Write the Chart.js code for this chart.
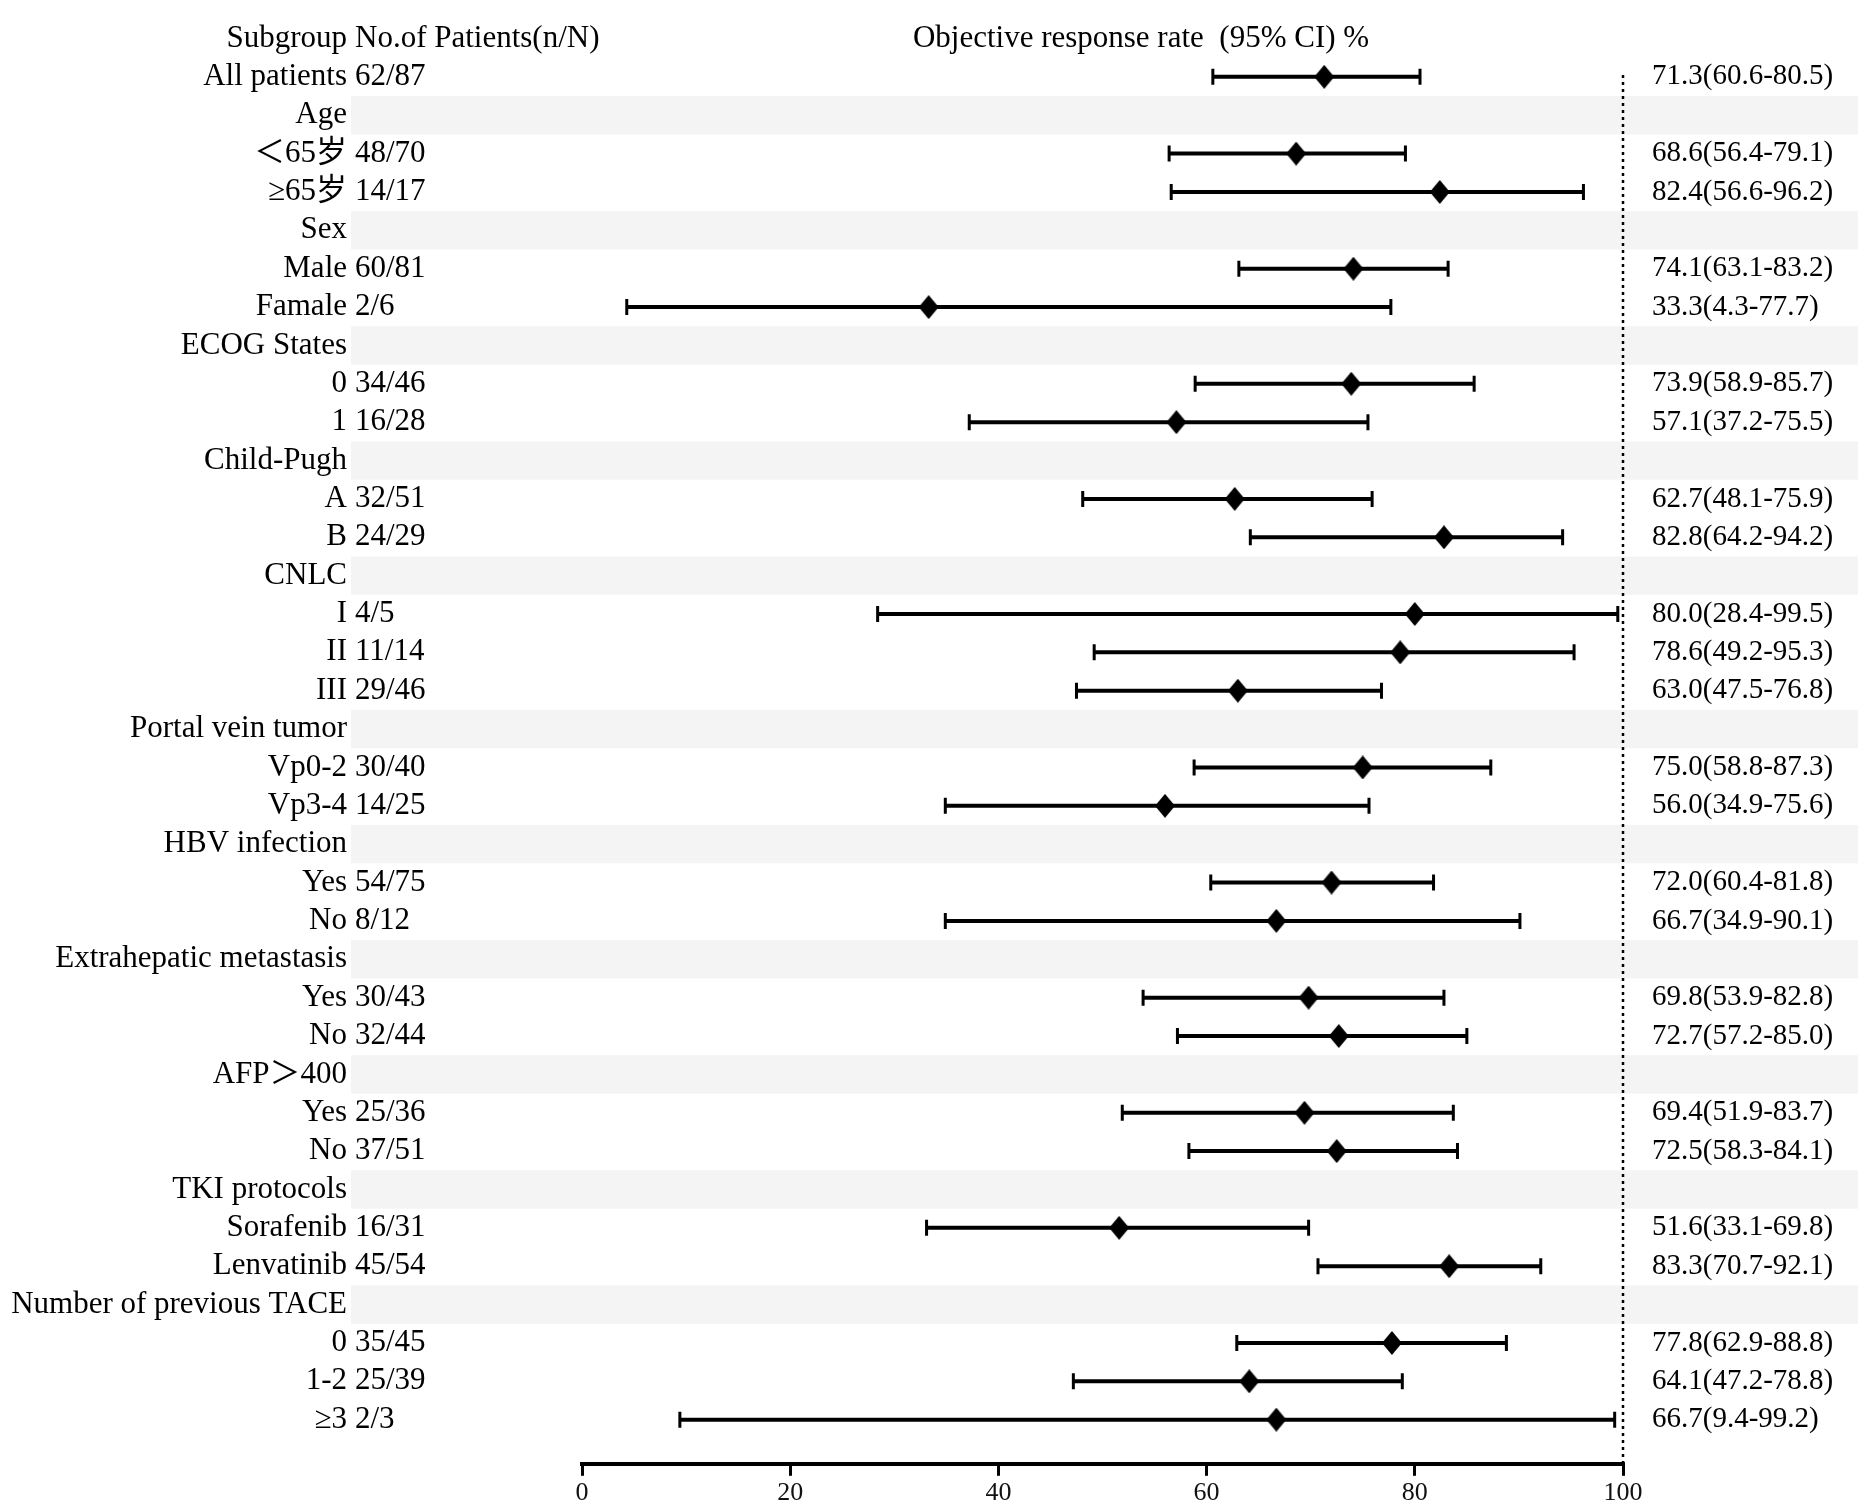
<!DOCTYPE html>
<html>
<head>
<meta charset="utf-8">
<script src="https://cdn.jsdelivr.net/npm/chart.js@4/dist/chart.umd.min.js"></script>
<style>
  html, body { margin: 0; padding: 0; background: #fff; }
  canvas { display: block; }
</style>
</head>
<body>
<canvas id="forest" width="1858" height="1511"></canvas>
<script>
// Subgroup rows (header rows have no estimate)
const subgroups = ['All patients', 'Age', '＜65岁', '≥65岁', 'Sex', 'Male', 'Famale',
  'ECOG States', '0', '1', 'Child-Pugh', 'A', 'B', 'CNLC', 'I', 'II', 'III',
  'Portal vein tumor', 'Vp0-2', 'Vp3-4', 'HBV infection', 'Yes', 'No',
  'Extrahepatic metastasis', 'Yes', 'No', 'AFP＞400', 'Yes', 'No',
  'TKI protocols', 'Sorafenib', 'Lenvatinib', 'Number of previous TACE', '0', '1-2', '≥3'];
const patients = ['62/87', '', '48/70', '14/17', '', '60/81', '2/6',
  '', '34/46', '16/28', '', '32/51', '24/29', '', '4/5', '11/14', '29/46',
  '', '30/40', '14/25', '', '54/75', '8/12',
  '', '30/43', '32/44', '', '25/36', '37/51',
  '', '16/31', '45/54', '', '35/45', '25/39', '2/3'];
const orr = [71.3, null, 68.6, 82.4, null, 74.1, 33.3,
  null, 73.9, 57.1, null, 62.7, 82.8, null, 80.0, 78.6, 63.0,
  null, 75.0, 56.0, null, 72.0, 66.7,
  null, 69.8, 72.7, null, 69.4, 72.5,
  null, 51.6, 83.3, null, 77.8, 64.1, 66.7];
const ciLow = [60.6, null, 56.4, 56.6, null, 63.1, 4.3,
  null, 58.9, 37.2, null, 48.1, 64.2, null, 28.4, 49.2, 47.5,
  null, 58.8, 34.9, null, 60.4, 34.9,
  null, 53.9, 57.2, null, 51.9, 58.3,
  null, 33.1, 70.7, null, 62.9, 47.2, 9.4];
const ciHigh = [80.5, null, 79.1, 96.2, null, 83.2, 77.7,
  null, 85.7, 75.5, null, 75.9, 94.2, null, 99.5, 95.3, 76.8,
  null, 87.3, 75.6, null, 81.8, 90.1,
  null, 82.8, 85.0, null, 83.7, 84.1,
  null, 69.8, 92.1, null, 88.8, 78.8, 99.2];
const xTicks = [0, 20, 40, 60, 80, 100];

const LABEL_FONT = '31px "Liberation Serif", "Noto Sans CJK SC", serif';
const CI_FONT = '29px "Liberation Serif", serif';

// tall diamond marker
const diamond = document.createElement('canvas');
diamond.width = 20; diamond.height = 24;
(function () {
  const c = diamond.getContext('2d');
  c.fillStyle = '#000';
  c.beginPath();
  c.moveTo(10, 0); c.lineTo(20, 12); c.lineTo(10, 24); c.lineTo(0, 12);
  c.closePath();
  c.fill();
})();

const points = [];
orr.forEach((v, i) => { if (v !== null) points.push({ x: v, y: i + 1 }); });

const forestPlugin = {
  id: 'forest',
  beforeDatasetsDraw(chart) {
    const { ctx, scales: { x, y }, width } = chart;
    ctx.save();
    // shaded bands for group headers
    ctx.fillStyle = '#f4f4f4';
    const bandLeft = 351;
    orr.forEach((v, i) => {
      if (v === null) {
        const top = y.getPixelForValue(i + 0.5);
        const bot = y.getPixelForValue(i + 1.5);
        ctx.fillRect(bandLeft, top, width - bandLeft, bot - top);
      }
    });
    // dotted reference line at 100
    ctx.strokeStyle = '#000';
    ctx.lineWidth = 2.5;
    ctx.setLineDash([3, 4]);
    ctx.beginPath();
    ctx.moveTo(x.getPixelForValue(100), y.getPixelForValue(0.95));
    ctx.lineTo(x.getPixelForValue(100), y.bottom);
    ctx.stroke();
    ctx.setLineDash([]);
    // confidence intervals
    orr.forEach((v, i) => {
      if (v === null) return;
      const py = y.getPixelForValue(i + 1);
      const x1 = x.getPixelForValue(ciLow[i]);
      const x2 = x.getPixelForValue(ciHigh[i]);
      ctx.lineWidth = 4;
      ctx.beginPath();
      ctx.moveTo(x1, py); ctx.lineTo(x2, py);
      ctx.stroke();
      ctx.lineWidth = 3;
      ctx.beginPath();
      ctx.moveTo(x1, py - 8); ctx.lineTo(x1, py + 8);
      ctx.moveTo(x2, py - 8); ctx.lineTo(x2, py + 8);
      ctx.stroke();
    });
    ctx.restore();
  },
  afterDraw(chart) {
    const { ctx, scales: { y } } = chart;
    ctx.save();
    ctx.font = LABEL_FONT;
    ctx.fillStyle = '#000';
    ctx.textBaseline = 'middle';
    const hy = y.getPixelForValue(0);
    ctx.textAlign = 'right';
    ctx.fillText('Subgroup', 347, hy);
    ctx.textAlign = 'left';
    ctx.fillText('No.of Patients(n/N)', 355, hy);
    ctx.textAlign = 'center';
    ctx.fillText('Objective response rate  (95% CI) %', 1141, hy);
    subgroups.forEach((s, i) => {
      const py = y.getPixelForValue(i + 1);
      ctx.font = LABEL_FONT;
      ctx.textAlign = 'right';
      ctx.fillText(s, 347, py);
      ctx.textAlign = 'left';
      if (patients[i]) ctx.fillText(patients[i], 355, py);
      if (orr[i] !== null) {
        const txt = orr[i].toFixed(1) + '(' + ciLow[i].toFixed(1) + '-' + ciHigh[i].toFixed(1) + ')';
        ctx.font = CI_FONT;
        ctx.fillText(txt, 1652, py);
      }
    });
    ctx.restore();
  }
};

new Chart(document.getElementById('forest'), {
  type: 'scatter',
  data: {
    datasets: [{
      data: points,
      pointStyle: diamond,
      pointRadius: 10,
      backgroundColor: '#000',
      borderColor: '#000'
    }]
  },
  options: {
    responsive: false,
    animation: false,
    devicePixelRatio: 1,
    layout: { padding: { left: 582, right: 235, top: 38.5, bottom: 0 } },
    plugins: { legend: { display: false }, tooltip: { enabled: false } },
    scales: {
      x: {
        type: 'linear',
        min: 0,
        max: 100,
        afterBuildTicks: axis => { axis.ticks = xTicks.map(v => ({ value: v })); },
        ticks: { color: '#111', font: { family: '"Liberation Serif", serif', size: 26 }, padding: 2 },
        grid: { drawOnChartArea: false, drawTicks: true, tickLength: 12, lineWidth: 3, color: '#000' },
        border: { display: true, width: 4, color: '#000' }
      },
      y: {
        type: 'linear',
        min: 0,
        max: 37.15,
        reverse: true,
        display: false
      }
    }
  },
  plugins: [forestPlugin]
});
</script>
</body>
</html>
